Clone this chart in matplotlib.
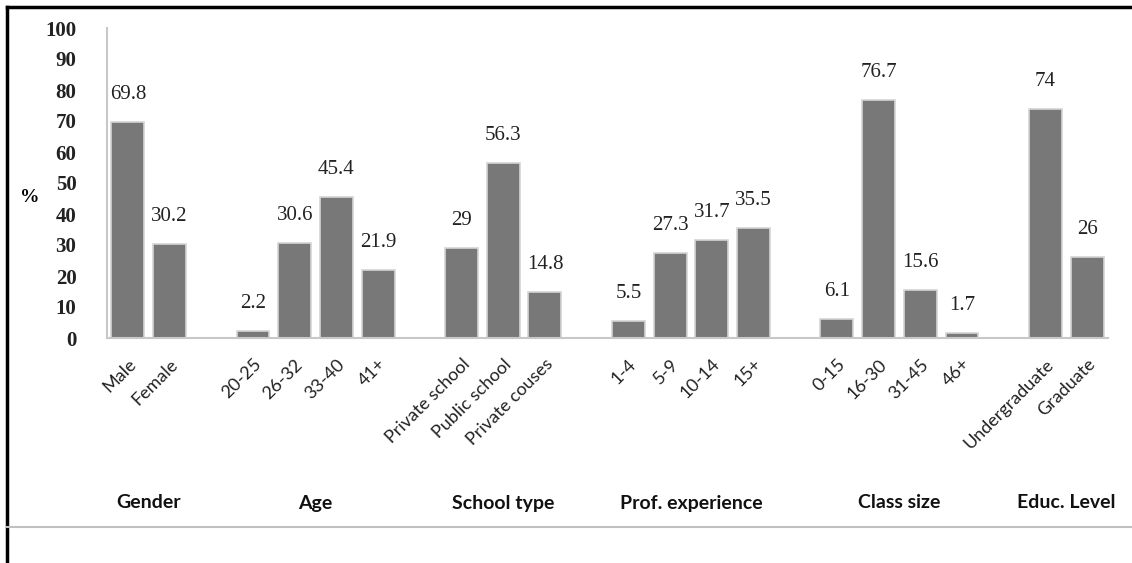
import matplotlib.pyplot as plt
import matplotlib.transforms as mtransforms
from matplotlib.lines import Line2D

# donnees
groupes = ["Gender", "Age", "School type", "Prof. experience", "Class size", "Educ. Level"]
categories = [
    ["Male", "Female"],
    ["20-25", "26-32", "33-40", "41+"],
    ["Private school", "Public school", "Private couses"],
    ["1-4", "5-9", "10-14", "15+"],
    ["0-15", "16-30", "31-45", "46+"],
    ["Undergraduate", "Graduate"],
]
valeurs = [
    [69.8, 30.2],
    [2.2, 30.6, 45.4, 21.9],
    [29, 56.3, 14.8],
    [5.5, 27.3, 31.7, 35.5],
    [6.1, 76.7, 15.6, 1.7],
    [74, 26],
]
etiquettes_y = [0, 10, 20, 30, 40, 50, 60, 70, 80, 90, 100]

W, H = 1132, 563
fig = plt.figure(figsize=(W / 100, H / 100), dpi=100)
ax = fig.add_axes([107 / W, 1 - 338 / H, (1108 - 107) / W, (338 - 28) / H])

# positions : un emplacement vide entre chaque groupe
positions, labels, hauteurs, centres = [], [], [], []
x = 0
for noms, vals in zip(categories, valeurs):
    debut = x
    for n, v in zip(noms, vals):
        positions.append(x)
        labels.append(n)
        hauteurs.append(v)
        x += 1
    centres.append((debut + x - 1) / 2)
    x += 1

bars = ax.bar(positions, hauteurs, width=0.79, color='#787878', edgecolor='#d4d4d4', linewidth=1.2)

for pos, v in zip(positions, hauteurs):
    ax.annotate(f'{v:g}', (pos, v), xytext=(0, 13), textcoords='offset points',
                ha='center', va='bottom', fontsize=15, family='Liberation Serif', color='#222222')

ax.set_xlim(-0.5, x - 1.5)
ax.set_ylim(0, 100)
ax.set_yticks(etiquettes_y)
ax.set_yticklabels([str(t) for t in etiquettes_y], fontsize=15, family='Liberation Serif',
                   fontweight='bold', color='#222222')
ax.tick_params(axis='y', length=0, pad=22)
ax.set_xticks(positions)
ax.set_xticklabels(labels, rotation=45, ha='right', rotation_mode='anchor', fontsize=13,
                   family='Lato', color='#222222')
ax.tick_params(axis='x', length=0, pad=13)

for cote in ['top', 'right']:
    ax.spines[cote].set_visible(False)
ax.spines['left'].set_color('#c8c8c8')
ax.spines['bottom'].set_color('#c8c8c8')
ax.spines['left'].set_linewidth(1.5)
ax.spines['bottom'].set_linewidth(1.5)

trans = mtransforms.blended_transform_factory(ax.transData, ax.transAxes)
for c, g in zip(centres, groupes):
    ax.text(c, -(503 - 338) / 310, g, transform=trans, ha='center', va='center',
            fontsize=14, fontweight='bold', family='Lato', color='#111111')

fig.text(30 / W, 1 - 197 / H, '%', fontsize=14, fontweight='bold', family='Liberation Serif',
         ha='center', va='center')

# cadre et ligne grise
fig.add_artist(Line2D([7 / W, 7 / W], [0, 1 - 7 / H], color='black', linewidth=2.5, transform=fig.transFigure))
fig.add_artist(Line2D([7 / W, 1], [1 - 7 / H, 1 - 7 / H], color='black', linewidth=2.5, transform=fig.transFigure))
fig.add_artist(Line2D([7 / W, 1], [1 - 527 / H, 1 - 527 / H], color='#c0c0c0', linewidth=1.5, transform=fig.transFigure))

fig.savefig('out.png', dpi=100)
